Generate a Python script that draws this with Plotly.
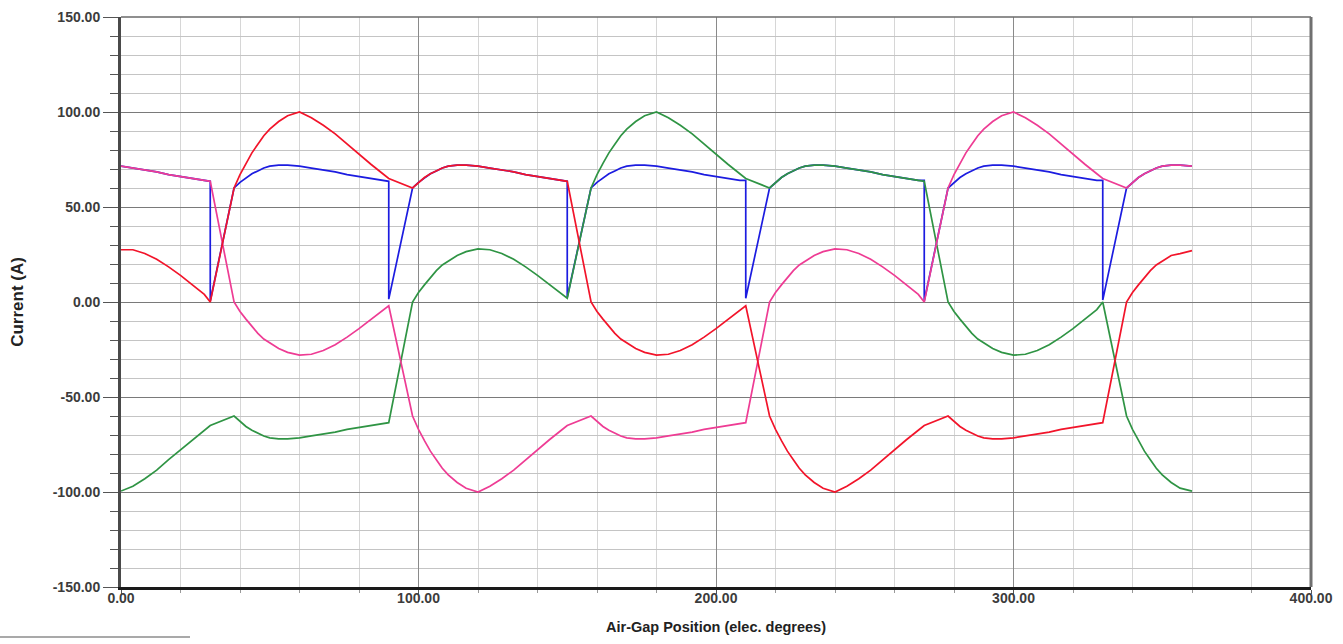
import plotly.graph_objects as go

# ---------------- data ----------------
angle_deg = [0, 4, 8, 12, 16, 20, 24, 28,
             30, 38, 40, 42, 44, 46, 48, 50, 53, 56, 60, 64, 68, 72, 76, 80, 84, 88,
             90, 98, 100, 102, 104, 106, 108, 110, 113, 116, 120, 124, 128, 132, 136, 140, 144, 148,
             150, 158, 160, 162, 164, 166, 168, 170, 173, 176, 180, 184, 188, 192, 196, 200, 204, 208,
             210, 218, 220, 222, 224, 226, 228, 230, 233, 236, 240, 244, 248, 252, 256, 260, 264, 268,
             270, 278, 280, 282, 284, 286, 288, 290, 293, 296, 300, 304, 308, 312, 316, 320, 324, 328,
             330, 338, 340, 342, 344, 346, 348, 350, 353, 356, 360]

current_red = [27.5, 27.5, 25.5, 22.5, 18.5, 14, 9, 4,
               0, 60, 67, 73, 78.5, 83, 87.5, 91, 95, 98, 100, 97, 93, 88.5, 83, 78, 72.5, 67.5,
               65, 60, 63, 65.5, 67.5, 69, 70.5, 71.5, 72, 72, 71.5, 70.5, 69.5, 68.5, 67, 66, 65, 64,
               63.5, 0, -5, -9, -13, -16.5, -19.5, -21.5, -24.5, -26.5, -28, -27.5, -25.5, -22.5, -18.5, -14, -9, -4,
               -2, -60, -67, -73, -78.5, -83, -87.5, -91, -95, -98, -100, -97, -93, -88.5, -83, -78, -72.5, -67.5,
               -65, -60, -63, -65.5, -67.5, -69, -70.5, -71.5, -72, -72, -71.5, -70.5, -69.5, -68.5, -67, -66, -65, -64,
               -63.5, 0, 5, 9, 13, 16.5, 19.5, 21.5, 24.5, 25.5, 27]

current_green = [-99.5, -97, -93, -88.5, -83, -78, -72.5, -67.5,
                 -65, -60, -63, -65.5, -67.5, -69, -70.5, -71.5, -72, -72, -71.5, -70.5, -69.5, -68.5, -67, -66, -65, -64,
                 -63.5, 0, 5, 9, 13, 16.5, 19.5, 21.5, 24.5, 26.5, 28, 27.5, 25.5, 22.5, 18.5, 14, 9, 4,
                 2, 60, 67, 73, 78.5, 83, 87.5, 91, 95, 98, 100, 97, 93, 88.5, 83, 78, 72.5, 67.5,
                 65, 60, 63, 65.5, 67.5, 69, 70.5, 71.5, 72, 72, 71.5, 70.5, 69.5, 68.5, 67, 66, 65, 64,
                 63.5, 0, -5, -9, -13, -16.5, -19.5, -21.5, -24.5, -26.5, -28, -27.5, -25.5, -22.5, -18.5, -14, -9, -4,
                 0, -60, -67, -73, -78.5, -83, -87.5, -91, -95, -98, -99.5]

current_pink = [71.5, 70.5, 69.5, 68.5, 67, 66, 65, 64,
                63.5, 0, -5, -9, -13, -16.5, -19.5, -21.5, -24.5, -26.5, -28, -27.5, -25.5, -22.5, -18.5, -14, -9, -4,
                -2, -60, -67, -73, -78.5, -83, -87.5, -91, -95, -98, -100, -97, -93, -88.5, -83, -78, -72.5, -67.5,
                -65, -60, -63, -65.5, -67.5, -69, -70.5, -71.5, -72, -72, -71.5, -70.5, -69.5, -68.5, -67, -66, -65, -64,
                -63.5, 0, 5, 9, 13, 16.5, 19.5, 21.5, 24.5, 26.5, 28, 27.5, 25.5, 22.5, 18.5, 14, 9, 4,
                0, 60, 67, 73, 78.5, 83, 87.5, 91, 95, 98, 100, 97, 93, 88.5, 83, 78, 72.5, 67.5,
                65, 60, 63, 65.5, 67.5, 69, 70.5, 71.5, 72, 72, 71.5]

dc_angle = [0, 4, 8, 12, 16, 20, 24, 28,
            30, 30, 38, 40, 42, 44, 46, 48, 50, 53, 56, 60, 64, 68, 72, 76, 80, 84, 88,
            90, 90, 98, 100, 102, 104, 106, 108, 110, 113, 116, 120, 124, 128, 132, 136, 140, 144, 148,
            150, 150, 158, 160, 162, 164, 166, 168, 170, 173, 176, 180, 184, 188, 192, 196, 200, 204, 208,
            210, 210, 218, 220, 222, 224, 226, 228, 230, 233, 236, 240, 244, 248, 252, 256, 260, 264, 268,
            270, 270, 278, 280, 282, 284, 286, 288, 290, 293, 296, 300, 304, 308, 312, 316, 320, 324, 328,
            330, 330, 338, 340, 342, 344, 346, 348, 350, 353, 356, 360]

dc_current = [71.5, 70.5, 69.5, 68.5, 67, 66, 65, 64,
              63.5, 0.5, 60, 63, 65.5, 67.5, 69, 70.5, 71.5, 72, 72, 71.5, 70.5, 69.5, 68.5, 67, 66, 65, 64,
              63.5, 1.5, 60, 63, 65.5, 67.5, 69, 70.5, 71.5, 72, 72, 71.5, 70.5, 69.5, 68.5, 67, 66, 65, 64,
              63.5, 2.5, 60, 63, 65.5, 67.5, 69, 70.5, 71.5, 72, 72, 71.5, 70.5, 69.5, 68.5, 67, 66, 65, 64,
              64, 2, 60, 63, 65.5, 67.5, 69, 70.5, 71.5, 72, 72, 71.5, 70.5, 69.5, 68.5, 67, 66, 65, 64,
              64, 0.5, 60, 63, 65.5, 67.5, 69, 70.5, 71.5, 72, 72, 71.5, 70.5, 69.5, 68.5, 67, 66, 65, 64,
              64, 1, 60, 63, 65.5, 67.5, 69, 70.5, 71.5, 72, 72, 71.5]

x_tick_vals = [0, 100, 200, 300, 400]
x_tick_text = ["0.00", "100.00", "200.00", "300.00", "400.00"]
y_tick_vals = [-150, -100, -50, 0, 50, 100, 150]
y_tick_text = ["-150.00", "-100.00", "-50.00", "0.00", "50.00", "100.00", "150.00"]

# ---------------- figure ----------------
W = 1.7
fig = go.Figure()
fig.add_trace(go.Scatter(x=dc_angle, y=dc_current, mode="lines", name="DC current",
                         line=dict(color="#1c1ce0", width=W)))
fig.add_trace(go.Scatter(x=angle_deg, y=current_green, mode="lines", name="Phase C",
                         line=dict(color="#2f9444", width=W)))
fig.add_trace(go.Scatter(x=angle_deg, y=current_pink, mode="lines", name="Phase B",
                         line=dict(color="#ee3c94", width=W)))
fig.add_trace(go.Scatter(x=angle_deg, y=current_red, mode="lines", name="Phase A",
                         line=dict(color="#f2142a", width=W)))

FAM = "Liberation Sans Narrow, Arial Narrow, Liberation Sans, Arial, sans-serif"
tick_font = dict(family=FAM, size=14, color="#3c3c3c", weight="bold")
x_title_font = dict(family=FAM, size=14.5, color="#222222", weight="bold")
y_title_font = dict(family="Liberation Sans, Arial, sans-serif", size=17, color="#222222", weight="bold")

fig.update_layout(
    width=1343, height=644,
    margin=dict(l=121, r=32, t=17, b=57),
    paper_bgcolor="white", plot_bgcolor="white",
    showlegend=False,
    xaxis=dict(
        range=[0, 400], tickmode="array", tickvals=x_tick_vals, ticktext=x_tick_text,
        automargin=False,
        showgrid=True, gridcolor="#8a8a8a", gridwidth=1.4,
        zeroline=False, showline=True, linecolor="#1a1a1a", linewidth=3,
        ticks="outside", ticklen=4, tickcolor="#555555", tickwidth=1,
        tickfont=tick_font, ticklabelstandoff=-8,
        minor=dict(dtick=20, tick0=0, showgrid=True, gridcolor="#d6d6d6", gridwidth=1,
                   ticks="outside", ticklen=3, tickcolor="#999999"),
        title=dict(text="Air-Gap Position (elec. degrees)", font=x_title_font, standoff=18),
    ),
    yaxis=dict(
        range=[-150, 150], tickmode="array", tickvals=y_tick_vals, ticktext=y_tick_text,
        automargin=False,
        showgrid=True, gridcolor="#7a7a7a", gridwidth=1.4,
        zeroline=False, showline=True, linecolor="#4a4a4a", linewidth=3,
        ticks="outside", ticklen=15, tickcolor="#555555", tickwidth=1.2,
        tickfont=tick_font,
        minor=dict(dtick=10, tick0=0, showgrid=True, gridcolor="#c4c4c4", gridwidth=1.2,
                   ticks="outside", ticklen=8, tickcolor="#555555"),
        title=dict(text="Current (A)", font=y_title_font, standoff=25),
    ),
    shapes=[
        dict(type="line", xref="paper", yref="paper", x0=0, x1=1, y0=1, y1=1,
             line=dict(color="#6a6a6a", width=1.5)),
        dict(type="line", xref="paper", yref="paper", x0=1, x1=1, y0=0, y1=1,
             line=dict(color="#707070", width=3)),
        dict(type="line", xref="paper", yref="paper", x0=-0.1017, x1=0.058, y0=-0.0877, y1=-0.0877,
             line=dict(color="#555555", width=1.2)),
    ],
)

fig.write_html("out.html")
